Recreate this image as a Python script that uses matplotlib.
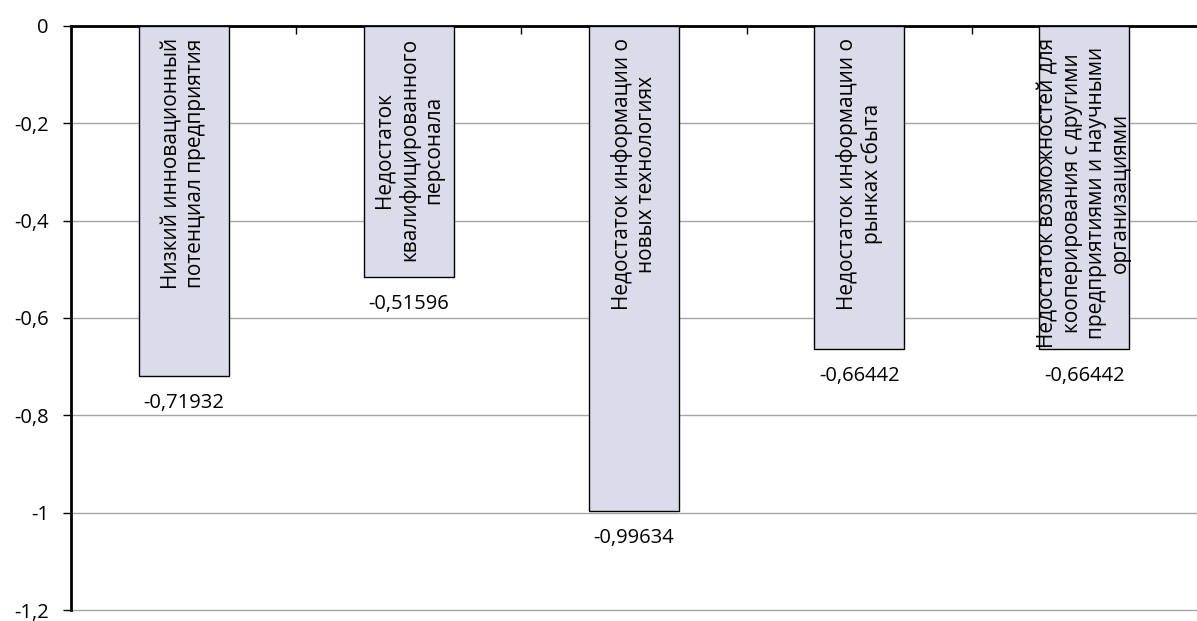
import matplotlib.pyplot as plt
from matplotlib.ticker import FixedLocator

plt.rcParams['font.family'] = ['Open Sans', 'DejaVu Sans']

# Данные диаграммы
categories = [
    "Низкий инновационный\nпотенциал предприятия",
    "Недостаток\nквалифицированного\nперсонала",
    "Недостаток информации о\nновых технологиях",
    "Недостаток информации о\nрынках сбыта",
    "Недостаток возможностей для\nкооперирования с другими\nпредприятиями и научными\nорганизациями",
]
values = [-0.71932, -0.51596, -0.99634, -0.66442, -0.66442]
y_ticks = [0, -0.2, -0.4, -0.6, -0.8, -1.0, -1.2]
y_labels = ['0', '-0,2', '-0,4', '-0,6', '-0,8', '-1', '-1,2']


def fmt(v):
    s = ('%.5f' % v).rstrip('0').rstrip('.')
    return s.replace('.', ',')


fig = plt.figure(figsize=(11.97, 6.21), dpi=100)
ax = fig.add_axes([0.0593, 0.0177, 0.9407, 0.9405])

x = list(range(len(values)))
ax.bar(x, values, width=0.4, color='#dcdbe9', edgecolor='black', linewidth=1, zorder=3)

for i, (c, v) in enumerate(zip(categories, values)):
    ax.text(i, -0.025, c, rotation=90, ha='center', va='top', multialignment='center',
            fontsize=15, zorder=4)
    ax.text(i, v - 0.035, fmt(v), ha='center', va='top', fontsize=14.5, zorder=4)

ax.set_xlim(-0.5, len(values) - 0.5)
ax.set_ylim(-1.2, 0)
ax.set_yticks(y_ticks)
ax.set_yticklabels(y_labels, fontsize=14.5)
ax.yaxis.grid(True, color='#a6a6a6', linewidth=1, zorder=0)
for gl in ax.yaxis.get_gridlines():
    gl.set_clip_on(False)
ax.tick_params(axis='y', direction='out', length=6, width=1, pad=10)

# ось категорий сверху (на уровне нуля)
ax.xaxis.tick_top()
ax.xaxis.set_major_locator(FixedLocator([i + 0.5 for i in range(len(values) - 1)]))
ax.set_xticklabels([])
ax.tick_params(axis='x', direction='in', length=6, width=1)

ax.spines['right'].set_visible(False)
ax.spines['bottom'].set_visible(False)
ax.spines['top'].set_linewidth(2)
ax.spines['left'].set_linewidth(2)

fig.savefig('out.png', dpi=100)
